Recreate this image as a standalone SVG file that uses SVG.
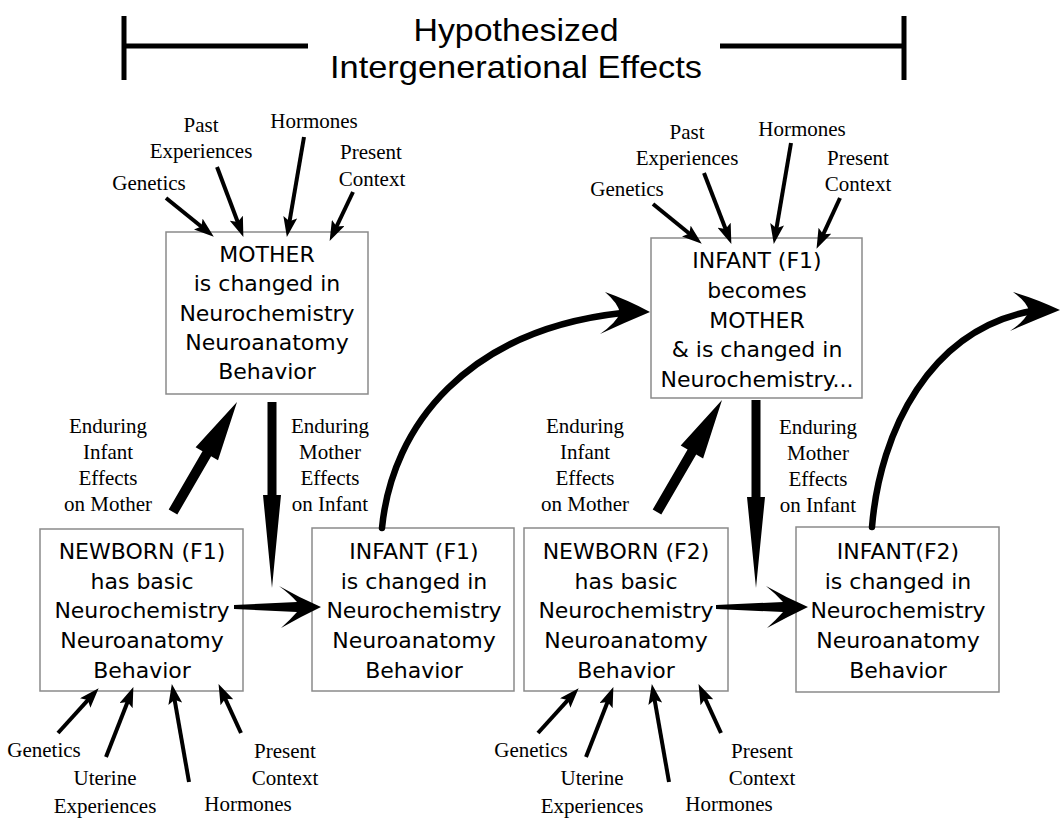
<svg xmlns="http://www.w3.org/2000/svg" width="1061" height="819" viewBox="0 0 1061 819">
<style>
.box{fill:#fff;stroke:#8a8a8a;stroke-width:1.5}
.bt{font-family:"DejaVu Sans",sans-serif;font-size:22px;text-anchor:middle;fill:#000}
.lb{font-family:"Liberation Serif","Times New Roman",serif;font-size:21px;text-anchor:middle;fill:#000}
.ttl{font-family:"Liberation Sans",Arial,sans-serif;font-size:32px;text-anchor:middle;fill:#000}
.bar{stroke:#000;stroke-width:5;fill:none}
.sa{stroke:#000;stroke-width:4;fill:none;marker-end:url(#ah)}
.cv{stroke:#000;stroke-width:6.5;fill:none;stroke-linecap:round}
.big{fill:#000;stroke:none}
</style>
<defs>
<marker id="ah" markerUnits="userSpaceOnUse" markerWidth="20" markerHeight="14" refX="11" refY="7" orient="auto">
<path d="M0,0 L20,7 L0,14 L4,7 Z" fill="#000"/>
</marker>
</defs>
<rect width="1061" height="819" fill="#fff"/>

<g id="title">
<path class="bar" d="M124,16 V80 M124,46 H308 M720,46 H904 M904,16 V80"/>
<text class="ttl" x="516" y="41" textLength="205" lengthAdjust="spacingAndGlyphs">Hypothesized</text>
<text class="ttl" x="516" y="78" textLength="372" lengthAdjust="spacingAndGlyphs">Intergenerational Effects</text>
</g>

<g id="mother">
<rect class="box" x="166" y="232" width="202" height="162"/>
<text class="bt" x="267" y="262">MOTHER</text>
<text class="bt" x="267" y="291">is changed in</text>
<text class="bt" x="267" y="321">Neurochemistry</text>
<text class="bt" x="267" y="350">Neuroanatomy</text>
<text class="bt" x="267" y="379">Behavior</text>
</g>

<g id="mother-inputs">
<text class="lb" x="201" y="132">Past</text>
<text class="lb" x="201" y="158">Experiences</text>
<text class="lb" x="314" y="128">Hormones</text>
<text class="lb" x="371" y="159">Present</text>
<text class="lb" x="372" y="186">Context</text>
<text class="lb" x="149" y="190">Genetics</text>
</g>

<g id="infant-f1-mother">
<rect class="box" x="651" y="238" width="211" height="160"/>
<text class="bt" x="757" y="268">INFANT (F1)</text>
<text class="bt" x="757" y="298">becomes</text>
<text class="bt" x="757" y="328">MOTHER</text>
<text class="bt" x="757" y="357">&amp; is changed in</text>
<text class="bt" x="757" y="387">Neurochemistry...</text>
</g>

<g id="infant-f1-mother-inputs">
<text class="lb" x="687" y="139">Past</text>
<text class="lb" x="687" y="165">Experiences</text>
<text class="lb" x="802" y="136">Hormones</text>
<text class="lb" x="858" y="165">Present</text>
<text class="lb" x="858" y="191">Context</text>
<text class="lb" x="627" y="196">Genetics</text>
</g>

<g id="newborn-f1">
<rect class="box" x="40" y="529" width="203" height="162"/>
<text class="bt" x="142" y="559">NEWBORN (F1)</text>
<text class="bt" x="142" y="589">has basic</text>
<text class="bt" x="142" y="618">Neurochemistry</text>
<text class="bt" x="142" y="648">Neuroanatomy</text>
<text class="bt" x="142" y="678">Behavior</text>
</g>

<g id="infant-f1">
<rect class="box" x="312" y="528" width="202" height="163"/>
<text class="bt" x="414" y="559">INFANT (F1)</text>
<text class="bt" x="414" y="589">is changed in</text>
<text class="bt" x="414" y="618">Neurochemistry</text>
<text class="bt" x="414" y="648">Neuroanatomy</text>
<text class="bt" x="414" y="678">Behavior</text>
</g>

<g id="newborn-f2">
<rect class="box" x="524" y="528" width="204" height="163"/>
<text class="bt" x="626" y="559">NEWBORN (F2)</text>
<text class="bt" x="626" y="589">has basic</text>
<text class="bt" x="626" y="618">Neurochemistry</text>
<text class="bt" x="626" y="648">Neuroanatomy</text>
<text class="bt" x="626" y="678">Behavior</text>
</g>

<g id="infant-f2">
<rect class="box" x="796" y="527" width="203" height="165"/>
<text class="bt" x="898" y="559">INFANT(F2)</text>
<text class="bt" x="898" y="589">is changed in</text>
<text class="bt" x="898" y="618">Neurochemistry</text>
<text class="bt" x="898" y="648">Neuroanatomy</text>
<text class="bt" x="898" y="678">Behavior</text>
</g>

<g id="effect-labels">
<text class="lb" x="108" y="433">Enduring</text>
<text class="lb" x="108" y="459">Infant</text>
<text class="lb" x="108" y="485">Effects</text>
<text class="lb" x="108" y="511">on Mother</text>
<text class="lb" x="330" y="433">Enduring</text>
<text class="lb" x="330" y="459">Mother</text>
<text class="lb" x="330" y="485">Effects</text>
<text class="lb" x="330" y="511">on Infant</text>
<text class="lb" x="585" y="433">Enduring</text>
<text class="lb" x="585" y="459">Infant</text>
<text class="lb" x="585" y="485">Effects</text>
<text class="lb" x="585" y="511">on Mother</text>
<text class="lb" x="818" y="434">Enduring</text>
<text class="lb" x="818" y="460">Mother</text>
<text class="lb" x="818" y="486">Effects</text>
<text class="lb" x="818" y="512">on Infant</text>
</g>

<g id="newborn-f1-inputs">
<text class="lb" x="44" y="757">Genetics</text>
<text class="lb" x="105" y="785">Uterine</text>
<text class="lb" x="105" y="813">Experiences</text>
<text class="lb" x="248" y="811">Hormones</text>
<text class="lb" x="285" y="758">Present</text>
<text class="lb" x="285" y="785">Context</text>
</g>

<g id="newborn-f2-inputs">
<text class="lb" x="531" y="757">Genetics</text>
<text class="lb" x="592" y="785">Uterine</text>
<text class="lb" x="592" y="813">Experiences</text>
<text class="lb" x="729" y="811">Hormones</text>
<text class="lb" x="762" y="758">Present</text>
<text class="lb" x="762" y="785">Context</text>
</g>

<g id="connectors">
<path class="sa" d="M166,198 L206.8,231"/>
<path class="sa" d="M217,167 L240.2,228.5"/>
<path class="sa" d="M304,137 L288.4,228.1"/>
<path class="sa" d="M353,192 L333.5,232.8"/>
<path class="sa" d="M653,204 L694.8,238"/>
<path class="sa" d="M704,173 L728.1,235.5"/>
<path class="sa" d="M791,143 L775.3,235.1"/>
<path class="sa" d="M840,198 L820.3,240.7"/>
<path class="sa" d="M58,733 L92.6,694.9"/>
<path class="sa" d="M106,757 L130.1,695.4"/>
<path class="sa" d="M189,782 L173.4,692.9"/>
<path class="sa" d="M241,733 L222.3,692.3"/>
<path class="sa" d="M538,733 L572.6,694.9"/>
<path class="sa" d="M586,757 L610.1,695.4"/>
<path class="sa" d="M669,782 L653.4,692.9"/>
<path class="sa" d="M721,733 L702.3,692.3"/>
<path class="big" d="M177.3,514.5 L211.1,456.3 L218,460.3 L237,402 L195.6,447.3 L202.5,451.3 L168.7,509.5 Z"/>
<path class="big" d="M661.3,514.5 L696.2,454.4 L703.1,458.4 L722,400 L680.7,445.4 L687.6,449.4 L652.7,509.5 Z"/>
<path class="big" d="M267.5,402 L276.5,402 L276.5,495 L281,495 L272,588 L263,495 L267.5,495 Z"/>
<path class="big" d="M751.5,400 L760.5,400 L760.5,497 L765,497 L756,588 L747,497 L751.5,497 Z"/>
<path class="big" d="M234,605 L297,602 Q290,594 279,586 Q300,598 321,607 Q300,617 281,628 Q290,620 297,612 L234,609 Z"/>
<path class="big" d="M716,605 L783,602 Q776,594 766,586 Q787,598 808,607 Q787,617 767,628 Q776,620 783,612 L716,609 Z"/>
<path class="cv" d="M382,528 C392,425 468,330 622,313"/>
<path class="big" d="M650,312 Q628,300 605,292 Q618,303 620,313 Q616,323 600,334 Q626,322 650,312 Z"/>
<path class="cv" d="M872,527 C880,430 930,330 1032,311"/>
<path class="big" d="M1060,310 Q1037,299 1013,292 Q1027,302 1029,311 Q1025,321 1010,331 Q1035,320 1060,310 Z"/>
</g>
</svg>
